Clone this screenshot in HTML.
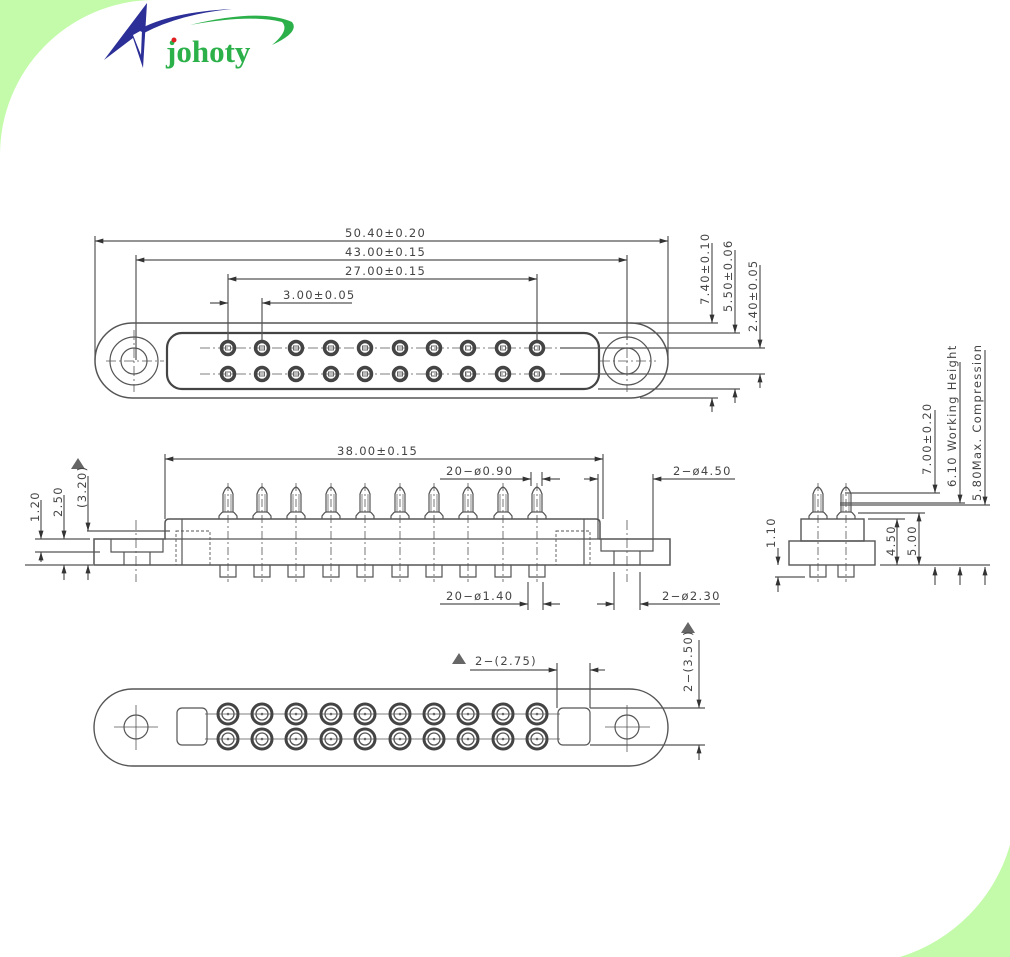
<!DOCTYPE html>
<html><head><meta charset="utf-8"><style>
html,body{margin:0;padding:0;background:#fff;}
svg{display:block;}
text{font-family:"DejaVu Sans","Liberation Sans",sans-serif;font-size:11.5px;letter-spacing:1.3px;fill:#444;}
</style></head><body>
<svg width="1010" height="957" viewBox="0 0 1010 957" xmlns="http://www.w3.org/2000/svg">
<defs>
<marker id="a" viewBox="0 0 10 6" refX="10" refY="3" markerWidth="9" markerHeight="5" orient="auto-start-reverse" markerUnits="userSpaceOnUse"><path d="M0,0 L10,3 L0,6z" fill="#333"/></marker>
<g id="tp"><circle r="6.5" fill="none" stroke="#444" stroke-width="3.5"/><rect x="-2.5" y="-2" width="5" height="4" fill="none" stroke="#666" stroke-width="1"/></g>
<g id="bp"><circle r="10" fill="none" stroke="#444" stroke-width="3"/><circle r="6" fill="none" stroke="#555" stroke-width="1.3"/><circle r="1.3" fill="#666"/></g>
<g id="plg" fill="none" stroke="#555" stroke-width="1.2"><path d="M-9,519 L-9,516 Q-6,512 -5,512 L-5,494 Q-3,488 0,487 Q3,488 5,494 L5,512 Q6,512 9,516 L9,519"/><line x1="-5" y1="512" x2="5" y2="512"/><line x1="-3" y1="494" x2="-3" y2="512" stroke-width=".7"/><line x1="3" y1="494" x2="3" y2="512" stroke-width=".7"/><path d="M-8,565 L-8,577 L8,577 L8,565"/><line x1="0" y1="483" x2="0" y2="582" stroke-dasharray="8,3,2,3" stroke-width=".8"/></g>
</defs>
<path d="M0,0 L152,0 A155 155 0 0 0 0 155 Z" fill="#c4fbaa"/>
<path d="M1010,845 A165 165 0 0 1 900 957 L1010 957 Z" fill="#c4fbaa"/>
<path d="M147,3 L104,60 L133,38 L143,68 L147,3 Z M133,35 L142,30 L141,55 Z" fill="#2b2f97" fill-rule="evenodd"/>
<path d="M138,30 Q170,12 232,9 Q180,14 144,33 Z" fill="#2b2f97"/>
<path d="M190,25 Q260,8 292,22 Q300,32 272,45 Q290,30 282,22 Q250,14 190,25 Z" fill="#2bb04a"/>
<text x="166" y="62" style="font-family:'Liberation Serif',serif;font-size:31px;font-weight:bold;fill:#2bb04a;letter-spacing:0;">johoty</text>
<circle cx="174" cy="40" r="2.5" fill="#e02020"/>

<g stroke="#555" stroke-width="1.2" fill="none">
<rect x="95" y="323" width="573" height="75" rx="37.5" stroke-width="1.5"/>
<rect x="167" y="333" width="432" height="56" rx="15" stroke-width="2.2" stroke="#444"/>
<circle cx="134" cy="361" r="24"/><circle cx="134" cy="361" r="13"/>
<circle cx="627" cy="361" r="24"/><circle cx="627" cy="361" r="13"/>
<g stroke-width=".8" stroke-dasharray="10,3,2,3">
<line x1="106" y1="361" x2="164" y2="361"/><line x1="134" y1="330" x2="134" y2="392"/>
<line x1="600" y1="361" x2="656" y2="361"/><line x1="627" y1="330" x2="627" y2="392"/>
<line x1="200" y1="348" x2="565" y2="348"/><line x1="200" y1="374" x2="565" y2="374"/>
</g>
<line x1="95" y1="236" x2="95" y2="360"/><line x1="668" y1="236" x2="668" y2="360"/>
<line x1="95" y1="241" x2="668" y2="241" marker-start="url(#a)" marker-end="url(#a)"/>
<line x1="136" y1="255" x2="136" y2="360"/><line x1="627" y1="255" x2="627" y2="340"/>
<line x1="136" y1="260" x2="627" y2="260" marker-start="url(#a)" marker-end="url(#a)"/>
<line x1="228" y1="274" x2="228" y2="342"/><line x1="537" y1="274" x2="537" y2="342"/>
<line x1="228" y1="279" x2="537" y2="279" marker-start="url(#a)" marker-end="url(#a)"/>
<line x1="262" y1="298" x2="262" y2="342"/>
<line x1="210" y1="303" x2="228" y2="303" marker-end="url(#a)"/>
<line x1="352" y1="303" x2="262" y2="303" marker-end="url(#a)"/>
<line x1="630" y1="323" x2="718" y2="323"/><line x1="640" y1="398" x2="718" y2="398"/>
<line x1="598" y1="333" x2="740" y2="333"/><line x1="598" y1="389" x2="740" y2="389"/>
<line x1="560" y1="348" x2="765" y2="348"/><line x1="560" y1="374" x2="765" y2="374"/>
<line x1="712" y1="243" x2="712" y2="323" marker-end="url(#a)"/><line x1="712" y1="412" x2="712" y2="398" marker-end="url(#a)"/>
<line x1="735" y1="250" x2="735" y2="333" marker-end="url(#a)"/><line x1="735" y1="403" x2="735" y2="389" marker-end="url(#a)"/>
<line x1="760" y1="265" x2="760" y2="348" marker-end="url(#a)"/><line x1="760" y1="388" x2="760" y2="374" marker-end="url(#a)"/>

<path d="M94,539 L165,539 L165,523 Q165,519 169,519 L596,519 Q600,519 600,523 L600,539 L670,539 L670,565 L94,565 Z" stroke-width="1.5"/>
<line x1="165" y1="539" x2="600" y2="539"/>
<path d="M111,539 L111,552 L163,552 L163,539"/><line x1="124" y1="552" x2="124" y2="565"/><line x1="150" y1="552" x2="150" y2="565"/>
<path d="M601,539 L601,551 L653,551 L653,539"/><line x1="614" y1="551" x2="614" y2="565"/><line x1="640" y1="551" x2="640" y2="565"/>
<g stroke-dasharray="3,2" stroke-width=".9"><rect x="176" y="531" width="34" height="34"/><rect x="556" y="531" width="34" height="34"/></g>
<line x1="182" y1="519" x2="182" y2="565"/><line x1="584" y1="519" x2="584" y2="565"/>
<g stroke-dasharray="10,3,2,3" stroke-width=".8"><line x1="136" y1="520" x2="136" y2="582"/><line x1="627" y1="520" x2="627" y2="582"/></g>
<line x1="165" y1="454" x2="165" y2="519"/><line x1="603" y1="454" x2="603" y2="519"/>
<line x1="165" y1="459" x2="603" y2="459" marker-start="url(#a)" marker-end="url(#a)"/>
<line x1="531" y1="472" x2="531" y2="486"/><line x1="542" y1="472" x2="542" y2="486"/>
<line x1="440" y1="479" x2="531" y2="479" marker-end="url(#a)"/><line x1="560" y1="479" x2="542" y2="479" marker-end="url(#a)"/>
<line x1="598" y1="474" x2="598" y2="539"/>
<line x1="584" y1="479" x2="598" y2="479" marker-end="url(#a)"/>
<line x1="653" y1="474" x2="653" y2="539"/>
<line x1="735" y1="479" x2="653" y2="479" marker-end="url(#a)"/>
<line x1="528" y1="582" x2="528" y2="610"/><line x1="543" y1="582" x2="543" y2="610"/>
<line x1="440" y1="604" x2="528" y2="604" marker-end="url(#a)"/><line x1="560" y1="604" x2="543" y2="604" marker-end="url(#a)"/>
<line x1="614" y1="572" x2="614" y2="610"/><line x1="640" y1="572" x2="640" y2="610"/>
<line x1="597" y1="604" x2="614" y2="604" marker-end="url(#a)"/><line x1="720" y1="604" x2="640" y2="604" marker-end="url(#a)"/>
<line x1="35" y1="539" x2="90" y2="539"/><line x1="35" y1="552" x2="100" y2="552"/><line x1="25" y1="565" x2="93" y2="565"/>
<line x1="87" y1="531" x2="170" y2="531"/>
<line x1="41" y1="500" x2="41" y2="539" marker-end="url(#a)"/><line x1="41" y1="562" x2="41" y2="552" marker-end="url(#a)"/>
<line x1="64" y1="495" x2="64" y2="539" marker-end="url(#a)"/><line x1="64" y1="580" x2="64" y2="565" marker-end="url(#a)"/>
<line x1="88" y1="476" x2="88" y2="531" marker-end="url(#a)"/><line x1="88" y1="580" x2="88" y2="565" marker-end="url(#a)"/>

<rect x="789" y="541" width="86" height="24" stroke-width="1.4"/>
<rect x="801" y="519" width="63" height="22" stroke-width="1.4"/>
<line x1="840" y1="505" x2="990" y2="505"/><line x1="840" y1="503" x2="965" y2="503"/><line x1="845" y1="493" x2="940" y2="493"/>
<line x1="858" y1="513" x2="925" y2="513"/><line x1="868" y1="519" x2="905" y2="519"/>
<line x1="880" y1="565" x2="990" y2="565"/>
<line x1="935" y1="410" x2="935" y2="493" marker-end="url(#a)"/><line x1="935" y1="585" x2="935" y2="567" marker-end="url(#a)"/>
<line x1="960" y1="362" x2="960" y2="503" marker-end="url(#a)"/><line x1="960" y1="585" x2="960" y2="567" marker-end="url(#a)"/>
<line x1="985" y1="350" x2="985" y2="505" marker-end="url(#a)"/><line x1="985" y1="585" x2="985" y2="567" marker-end="url(#a)"/>
<line x1="897" y1="519" x2="897" y2="565" marker-start="url(#a)" marker-end="url(#a)"/>
<line x1="919" y1="513" x2="919" y2="565" marker-start="url(#a)" marker-end="url(#a)"/>
<line x1="778" y1="548" x2="778" y2="565" marker-end="url(#a)"/><line x1="775" y1="577" x2="805" y2="577"/>
<line x1="778" y1="592" x2="778" y2="577" marker-end="url(#a)"/>

<rect x="94" y="689" width="574" height="77" rx="38.5" stroke-width="1.4"/>
<circle cx="136" cy="727" r="12"/><circle cx="627" cy="727" r="12"/>
<rect x="177" y="708" width="30" height="37" rx="5"/><rect x="558" y="708" width="32" height="37" rx="5"/>
<g stroke-width=".8"><line x1="114" y1="727" x2="158" y2="727"/><line x1="136" y1="705" x2="136" y2="750"/>
<line x1="605" y1="727" x2="650" y2="727"/><line x1="627" y1="705" x2="627" y2="752"/>
<line x1="205" y1="714" x2="560" y2="714"/><line x1="205" y1="739" x2="560" y2="739"/></g>
<line x1="557" y1="663" x2="557" y2="708"/><line x1="590" y1="663" x2="590" y2="708"/>
<line x1="470" y1="670" x2="557" y2="670" marker-end="url(#a)"/><line x1="605" y1="670" x2="590" y2="670" marker-end="url(#a)"/>
<line x1="590" y1="708" x2="705" y2="708"/><line x1="590" y1="745" x2="705" y2="745"/>
<line x1="699" y1="640" x2="699" y2="708" marker-end="url(#a)"/><line x1="699" y1="760" x2="699" y2="745" marker-end="url(#a)"/>
</g>
<g>
<use href="#tp" x="228" y="348"/><use href="#tp" x="262" y="348"/><use href="#tp" x="296" y="348"/><use href="#tp" x="331" y="348"/><use href="#tp" x="365" y="348"/><use href="#tp" x="400" y="348"/><use href="#tp" x="434" y="348"/><use href="#tp" x="468" y="348"/><use href="#tp" x="503" y="348"/><use href="#tp" x="537" y="348"/>
<use href="#tp" x="228" y="374"/><use href="#tp" x="262" y="374"/><use href="#tp" x="296" y="374"/><use href="#tp" x="331" y="374"/><use href="#tp" x="365" y="374"/><use href="#tp" x="400" y="374"/><use href="#tp" x="434" y="374"/><use href="#tp" x="468" y="374"/><use href="#tp" x="503" y="374"/><use href="#tp" x="537" y="374"/>
</g>
<g>
<use href="#plg" x="228"/><use href="#plg" x="262"/><use href="#plg" x="296"/><use href="#plg" x="331"/><use href="#plg" x="365"/><use href="#plg" x="400"/><use href="#plg" x="434"/><use href="#plg" x="468"/><use href="#plg" x="503"/><use href="#plg" x="537"/>
<use href="#plg" x="818"/><use href="#plg" x="846"/>
</g>
<g>
<use href="#bp" x="228" y="714"/><use href="#bp" x="262" y="714"/><use href="#bp" x="296" y="714"/><use href="#bp" x="331" y="714"/><use href="#bp" x="365" y="714"/><use href="#bp" x="400" y="714"/><use href="#bp" x="434" y="714"/><use href="#bp" x="468" y="714"/><use href="#bp" x="503" y="714"/><use href="#bp" x="537" y="714"/>
<use href="#bp" x="228" y="739"/><use href="#bp" x="262" y="739"/><use href="#bp" x="296" y="739"/><use href="#bp" x="331" y="739"/><use href="#bp" x="365" y="739"/><use href="#bp" x="400" y="739"/><use href="#bp" x="434" y="739"/><use href="#bp" x="468" y="739"/><use href="#bp" x="503" y="739"/><use href="#bp" x="537" y="739"/>
</g>
<g fill="#666"><path d="M78,458 L71,469 L85,469Z"/><path d="M459,653 L452,664 L466,664Z"/><path d="M688,622 L681,633 L695,633Z"/></g>
<text x="345" y="237">50.40±0.20</text>
<text x="345" y="256">43.00±0.15</text>
<text x="345" y="275">27.00±0.15</text>
<text x="283" y="299">3.00±0.05</text>
<line x1="282" y1="303" x2="352" y2="303" stroke="#555"/>
<text transform="translate(709,305) rotate(-90)">7.40±0.10</text>
<text transform="translate(732,312) rotate(-90)">5.50±0.06</text>
<text transform="translate(757,332) rotate(-90)">2.40±0.05</text>
<text x="337" y="455">38.00±0.15</text>
<text x="446" y="475">20−ø0.90</text>
<text x="673" y="475">2−ø4.50</text>
<text x="446" y="600">20−ø1.40</text>
<text x="662" y="600">2−ø2.30</text>
<text transform="translate(39,522) rotate(-90)">1.20</text>
<text transform="translate(62,517) rotate(-90)">2.50</text>
<text transform="translate(86,508) rotate(-90)">(3.20)</text>
<text transform="translate(931,475) rotate(-90)">7.00±0.20</text>
<text transform="translate(956,487) rotate(-90)">6.10 Working Height</text>
<text transform="translate(981,501) rotate(-90)">5.80Max. Compression</text>
<text transform="translate(895,556) rotate(-90)">4.50</text>
<text transform="translate(916,556) rotate(-90)">5.00</text>
<text transform="translate(775,548) rotate(-90)">1.10</text>
<text x="475" y="665">2−(2.75)</text>
<text transform="translate(692,692) rotate(-90)">2−(3.50)</text>
</svg>
</body></html>
